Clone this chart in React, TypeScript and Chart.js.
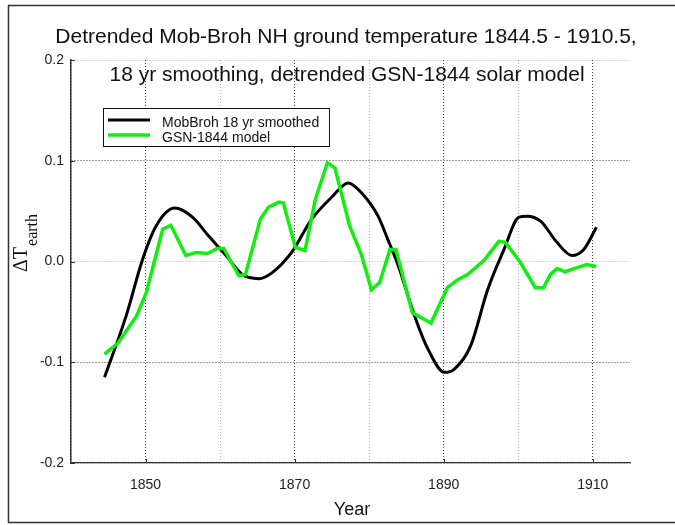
import { useEffect, useRef } from "react";
import { Chart, registerables } from "chart.js";

Chart.register(...registerables);

// Text
const titleLines = [
  "Detrended Mob-Broh NH ground temperature 1844.5 - 1910.5,",
  "18 yr smoothing, detrended GSN-1844 solar model",
];
const seriesNames = ["MobBroh 18 yr smoothed", "GSN-1844 model"];
const xAxisTitle = "Year";
const yAxisTitleMain = "ΔT";
const yAxisTitleSub = "earth";

// Axes
const yearGridLines = [1840, 1850, 1860, 1870, 1880, 1890, 1900, 1910];
const yearTickLabels = [1850, 1870, 1890, 1910];
const valueTicks = [-0.2, -0.1, 0.0, 0.1, 0.2];
const darkValueGrid = [-0.1, 0.1];

// Mob-Broh ground temperature, 18 yr smoothed and detrended
const mobBrohYears = [
  1844.5, 1847.4, 1849.6, 1851.4, 1853.9, 1856.3, 1858.5, 1860.8, 1863.0, 1865.2,
  1867.0, 1869.6, 1872.3, 1875.0, 1877.2, 1879.0, 1881.2, 1882.5, 1883.9, 1886.1,
  1887.9, 1890.1, 1891.4, 1893.6, 1895.9, 1898.1, 1900.1, 1901.2, 1903.0, 1905.2,
  1907.2, 1908.8, 1910.5,
];
const mobBrohValues = [
  -0.115, -0.054, 0.002, 0.035, 0.053, 0.044, 0.025, 0.006, -0.013, -0.017,
  -0.011, 0.009, 0.042, 0.064, 0.078, 0.068, 0.045, 0.022, -0.004, -0.054,
  -0.087, -0.110, -0.107, -0.084, -0.028, 0.012, 0.044, 0.045, 0.040, 0.019,
  0.006, 0.012, 0.034,
];

// GSN-1844 solar model, detrended
const gsnYears = [
  1844.5, 1846.3, 1848.8, 1850.1, 1852.3, 1853.4, 1855.4, 1856.8, 1858.3, 1859.6,
  1860.5, 1862.5, 1863.4, 1865.4, 1866.5, 1867.9, 1868.5, 1870.1, 1871.4, 1872.8,
  1874.4, 1875.4, 1877.4, 1879.0, 1880.3, 1881.4, 1882.8, 1883.6, 1885.8, 1888.3,
  1890.5, 1891.9, 1893.2, 1895.4, 1897.4, 1898.3, 1900.3, 1902.3, 1903.4, 1904.3,
  1905.2, 1906.3, 1907.9, 1909.2, 1910.5,
];
const gsnValues = [
  -0.092, -0.081, -0.054, -0.031, 0.032, 0.036, 0.006, 0.009, 0.008, 0.013,
  0.013, -0.014, -0.013, 0.042, 0.054, 0.059, 0.058, 0.014, 0.011, 0.062,
  0.098, 0.093, 0.035, 0.006, -0.028, -0.021, 0.012, 0.012, -0.051, -0.061,
  -0.026, -0.018, -0.013, 0.001, 0.020, 0.019, -0.001, -0.026, -0.026, -0.013,
  -0.007, -0.010, -0.006, -0.003, -0.005,
];

const SANS = '"Liberation Sans", Arial, Helvetica, sans-serif';
const SERIF = '"Liberation Serif", "Times New Roman", Times, serif';
const INK = "#222222";

// Frame, titles, inner tick marks and the boxed legend
const decorations = {
  id: "decorations",
  afterDraw(chart: any) {
    const { ctx, chartArea, scales } = chart;
    const x = scales.x;
    const y = scales.y;
    ctx.save();

    // outer frame
    ctx.strokeStyle = "#333333";
    ctx.lineWidth = 1.5;
    ctx.strokeRect(8.5, 5.5, 700, 517);

    // short inward ticks
    ctx.strokeStyle = "#333333";
    ctx.lineWidth = 1;
    yearTickLabels.forEach((v) => {
      const px = Math.round(x.getPixelForValue(v)) + 0.5;
      ctx.beginPath();
      ctx.moveTo(px, chartArea.bottom);
      ctx.lineTo(px, chartArea.bottom - 4);
      ctx.stroke();
    });
    valueTicks.forEach((v) => {
      const py = Math.round(y.getPixelForValue(v)) + 0.5;
      ctx.beginPath();
      ctx.moveTo(chartArea.left, py);
      ctx.lineTo(chartArea.left + 4, py);
      ctx.stroke();
    });

    // two-line title
    ctx.fillStyle = "#111111";
    ctx.font = `21px ${SANS}`;
    ctx.textAlign = "center";
    ctx.textBaseline = "alphabetic";
    ctx.fillText(titleLines[0], 346, 43);
    ctx.fillText(titleLines[1], 347, 81);

    // x axis title
    ctx.font = `18px ${SANS}`;
    ctx.fillText(xAxisTitle, 352, 515);

    // y axis title with subscript
    ctx.save();
    ctx.translate(27, 272);
    ctx.rotate(-Math.PI / 2);
    ctx.textAlign = "left";
    ctx.font = `20px ${SERIF}`;
    ctx.fillText(yAxisTitleMain, 0, 0);
    const mainW = ctx.measureText(yAxisTitleMain).width;
    ctx.font = `16px ${SERIF}`;
    ctx.fillText(yAxisTitleSub, mainW + 1, 10);
    ctx.restore();

    // legend box
    const bx = 103.5;
    const by = 108.5;
    const bw = 226;
    const bh = 38;
    ctx.fillStyle = "#ffffff";
    ctx.fillRect(bx, by, bw, bh);
    ctx.strokeStyle = "#111111";
    ctx.lineWidth = 1;
    ctx.strokeRect(bx, by, bw, bh);
    ctx.font = `14px ${SANS}`;
    ctx.textAlign = "left";
    ctx.textBaseline = "alphabetic";
    chart.data.datasets.forEach((ds: any, i: number) => {
      const ly = 120 + i * 15;
      ctx.strokeStyle = ds.borderColor;
      ctx.lineWidth = ds.borderWidth;
      ctx.beginPath();
      ctx.moveTo(108, ly);
      ctx.lineTo(150, ly);
      ctx.stroke();
      ctx.fillStyle = "#111111";
      ctx.fillText(ds.label, 162, ly + 6.5);
    });

    ctx.restore();
  },
};

export default function App() {
  const canvasRef = useRef<HTMLCanvasElement | null>(null);

  useEffect(() => {
    const canvas = canvasRef.current;
    if (!canvas) return;

    const chart = new Chart(canvas, {
      type: "line",
      data: {
        datasets: [
          {
            label: seriesNames[0],
            data: mobBrohYears.map((yr, i) => ({ x: yr, y: mobBrohValues[i] })),
            borderColor: "#000000",
            borderWidth: 3,
            pointRadius: 0,
            cubicInterpolationMode: "monotone",
            fill: false,
            order: 1,
          },
          {
            label: seriesNames[1],
            data: gsnYears.map((yr, i) => ({ x: yr, y: gsnValues[i] })),
            borderColor: "#12ee12",
            borderWidth: 3.5,
            pointRadius: 0,
            tension: 0,
            fill: false,
            order: 0,
          },
        ],
      },
      options: {
        animation: false,
        responsive: false,
        devicePixelRatio: 1,
        layout: { padding: { top: 60, right: 45, left: 0, bottom: 0 } },
        plugins: {
          legend: { display: false },
          title: { display: false },
          tooltip: { enabled: false },
        },
        scales: {
          x: {
            type: "linear",
            min: 1840,
            max: 1915,
            afterBuildTicks: (s: any) => {
              s.ticks = yearGridLines.map((v) => ({ value: v }));
            },
            afterFit: (s: any) => {
              s.height = 62;
            },
            grid: {
              drawTicks: false,
              lineWidth: 1,
              color: (c: any) =>
                yearTickLabels.includes(c.tick?.value) ? "rgba(30,30,30,0.85)" : "rgba(120,120,120,0.6)",
            },
            border: { display: true, color: "#333333", width: 1.2, dash: [1, 2] },
            ticks: {
              autoSkip: false,
              maxRotation: 0,
              padding: 14,
              color: INK,
              font: { family: SANS, size: 14 },
              callback: (v: any) => (yearTickLabels.includes(Number(v)) ? String(v) : ""),
            },
          },
          y: {
            type: "linear",
            min: -0.2,
            max: 0.2,
            afterBuildTicks: (s: any) => {
              s.ticks = valueTicks.map((v) => ({ value: v }));
            },
            afterFit: (s: any) => {
              s.width = 71;
            },
            grid: {
              drawTicks: false,
              lineWidth: 1,
              color: (c: any) =>
                darkValueGrid.some((d) => Math.abs(d - (c.tick?.value ?? 99)) < 1e-9)
                  ? "rgba(30,30,30,0.85)"
                  : "rgba(120,120,120,0.6)",
            },
            border: { display: true, color: "#333333", width: 1.5, dash: [1, 2] },
            ticks: {
              padding: 7,
              color: INK,
              font: { family: SANS, size: 14 },
              callback: (v: any) => Number(v).toFixed(1),
            },
          },
        },
      },
      plugins: [decorations],
    });

    return () => chart.destroy();
  }, []);

  return (
    <div style={{ position: "fixed", left: 0, top: 0, width: 675, height: 525, background: "#ffffff" }}>
      <canvas ref={canvasRef} width={675} height={525} style={{ width: 675, height: 525, display: "block" }} />
    </div>
  );
}
